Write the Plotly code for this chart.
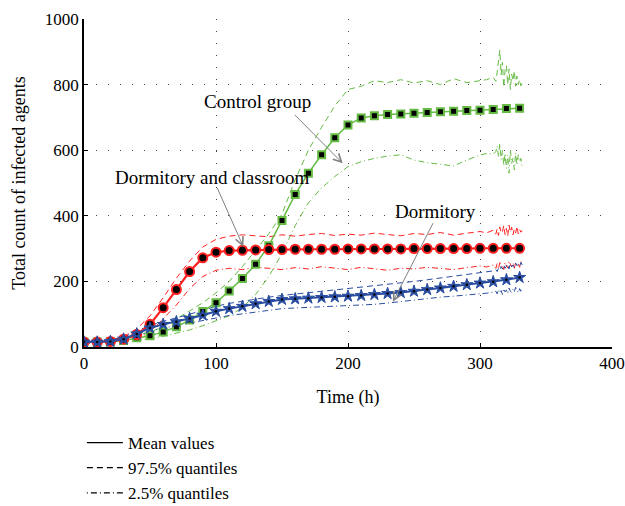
import plotly.graph_objects as go

# ---- data ----
T_MEAN = list(range(0, 331, 10))
RED_MEAN = [15, 15, 17, 24, 38, 69, 120, 175, 230, 272, 289, 294, 295, 296, 297, 297, 298, 298, 298, 298,
            299, 299, 299, 299, 299, 300, 300, 300, 300, 300, 301, 301, 301, 301]
GREEN_MEAN = [15, 15, 16, 20, 28, 34, 46, 62, 82, 108, 135, 171, 209, 252, 309, 386, 465, 530, 586, 638,
              677, 698, 705, 709, 710, 713, 715, 717, 719, 721, 722, 724, 727, 728]
BLUE_MEAN = [15, 15, 17, 24, 40, 58, 69, 77, 87, 97, 109, 117, 124, 132, 139, 145, 147, 149, 151, 153,
             155, 157, 160, 163, 166, 170, 175, 180, 185, 190, 195, 199, 205, 212]

Q_T = list(range(0, 301, 10)) + [305, 310] + list(range(312, 333))
RED_HI = [18, 18, 21, 32, 55, 95, 150, 210, 262, 305, 328, 338, 342, 340, 336, 342, 338, 343, 346, 340,
          344, 341, 347, 343, 339, 346, 343, 349, 341, 347, 352,
          348, 356,
          344, 360, 340, 366, 347, 352, 370, 343, 362, 338, 372, 350, 365, 342, 360, 348, 368, 345, 358, 350, 355]
RED_LO = [12, 12, 14, 18, 26, 45, 85, 128, 178, 215, 234, 240, 236, 243, 240, 236, 242, 238, 245, 240,
          236, 243, 238, 234, 240, 238, 243, 239, 236, 242, 247,
          244, 250,
          240, 254, 238, 257, 244, 250, 236, 258, 247, 241, 262, 250, 244, 256, 240, 258, 248, 254, 243, 260, 250]
GREEN_HI = [18, 18, 20, 25, 34, 45, 62, 85, 110, 135, 165, 200, 245, 295, 345, 405, 510, 600, 670, 735,
            785, 795, 812, 806, 815, 805, 812, 800, 818, 806, 812,
            815, 822,
            810, 838, 872, 905, 830, 868, 792, 845, 858, 800, 848, 785, 832, 812, 842, 795, 826, 800, 815, 796, 805]
GREEN_LO = [12, 12, 13, 15, 20, 25, 33, 42, 52, 65, 80, 95, 120, 160, 215, 285, 370, 440, 485, 520,
            550, 565, 575, 582, 586, 570, 562, 558, 552, 570, 585,
            590, 588,
            596, 612, 580, 620, 572, 600, 552, 590, 545, 585, 530, 602, 560, 576, 540, 592, 555, 586, 565, 575, 548]
BLUE_HI = [18, 18, 20, 30, 47, 66, 78, 88, 100, 112, 124, 133, 140, 147, 152, 157, 162, 166, 170, 174,
           178, 182, 186, 191, 195, 200, 205, 210, 216, 220, 225,
           228, 232,
           236, 230, 240, 234, 245, 238, 250, 240, 246, 252, 238, 255, 245, 250, 242, 256, 248, 252, 245, 258, 250]
BLUE_LO = [12, 12, 14, 20, 33, 50, 58, 65, 73, 82, 90, 96, 101, 107, 112, 117, 119, 121, 122, 123,
           125, 127, 130, 134, 139, 144, 148, 152, 155, 158, 162,
           164, 167,
           170, 162, 175, 165, 172, 160, 178, 168, 174, 163, 180, 170, 166, 176, 168, 182, 172, 165, 178, 170, 175]

X_TICKS = [0, 100, 200, 300, 400]
Y_TICKS = [0, 200, 400, 600, 800, 1000]
LEGEND_NAMES = ["Mean values", "97.5% quantiles", "2.5% quantiles"]

RED = "#ff2020"
GREEN = "#66bb44"
BLUE = "#2a4da0"
FONT = "Liberation Serif"

fig = go.Figure()

# quantile lines
for y, col, dash in [(GREEN_HI, GREEN, "6px,4px"), (GREEN_LO, GREEN, "6px,3px,1px,3px"),
                     (RED_HI, RED, "6px,4px"), (RED_LO, RED, "6px,3px,1px,3px"),
                     (BLUE_HI, BLUE, "6px,4px"), (BLUE_LO, BLUE, "6px,3px,1px,3px")]:
    fig.add_trace(go.Scatter(x=Q_T, y=y, mode="lines", showlegend=False, hoverinfo="skip",
                             line=dict(color=col, width=1, dash=dash)))

# mean lines with markers
fig.add_trace(go.Scatter(x=T_MEAN, y=GREEN_MEAN, mode="lines+markers", showlegend=False,
                         line=dict(color=GREEN, width=1.5),
                         marker=dict(symbol="square", size=7, color="black", line=dict(color=GREEN, width=2))))
fig.add_trace(go.Scatter(x=T_MEAN, y=RED_MEAN, mode="lines+markers", showlegend=False,
                         line=dict(color=RED, width=2.2),
                         marker=dict(symbol="circle", size=9, color="black", line=dict(color=RED, width=2))))
fig.add_trace(go.Scatter(x=T_MEAN, y=BLUE_MEAN, mode="lines+markers", showlegend=False,
                         line=dict(color=BLUE, width=2),
                         marker=dict(symbol="star", size=9, color=BLUE, line=dict(color=BLUE, width=1))))
fig.add_trace(go.Scatter(x=T_MEAN, y=BLUE_MEAN, mode="markers", showlegend=False, hoverinfo="skip",
                         marker=dict(symbol="circle", size=2.5, color="black")))

# legend entries
for name, dash in zip(LEGEND_NAMES, ["solid", "6px,4px", "1px,3px,6px,3px"]):
    fig.add_trace(go.Scatter(x=[None], y=[None], mode="lines", name=name,
                             line=dict(color="black", width=1.3, dash=dash)))

ann_font = dict(family=FONT, size=19, color="black")
annotations = [
    dict(x=131.8, y=750, xref="x", yref="y", text="Control group", showarrow=False, font=ann_font),
    dict(x=97, y=518, xref="x", yref="y", text="Dormitory and classroom", showarrow=False, font=ann_font),
    dict(x=266, y=412, xref="x", yref="y", text="Dormitory", showarrow=False, font=ann_font),
]
for (tx, ty, hx, hy) in [(158.6, 712, 196, 560), (100.5, 489, 120.7, 306), (265, 382, 234, 138)]:
    annotations.append(dict(x=hx, y=hy, ax=tx, ay=ty, xref="x", yref="y", axref="x", ayref="y",
                            text="", showarrow=True, arrowhead=5, arrowsize=1.6, arrowwidth=1,
                            arrowcolor="#808080"))

axis_common = dict(showline=True, linecolor="black", linewidth=1.5, ticks="inside", ticklen=4,
                   tickcolor="black", showgrid=True, gridcolor="#444444", gridwidth=1,
                   griddash="1px,11px", zeroline=False, automargin=False,
                   tickfont=dict(family=FONT, size=17, color="black"))

fig.update_layout(
    width=625, height=506,
    margin=dict(l=84, r=13, t=19, b=159, autoexpand=False),
    paper_bgcolor="white", plot_bgcolor="white",
    font=dict(family=FONT, size=17, color="black"),
    xaxis=dict(range=[0, 400], tickvals=X_TICKS,
               title=dict(text="Time (h)", font=dict(family=FONT, size=18), standoff=18), **axis_common),
    yaxis=dict(range=[0, 1000], tickvals=Y_TICKS,
               title=dict(text="Total count of infected agents", font=dict(family=FONT, size=18), standoff=15),
               **axis_common),
    legend=dict(x=-0.004, y=-0.238, xanchor="left", yanchor="top", bgcolor="rgba(0,0,0,0)",
                font=dict(family=FONT, size=17), tracegroupgap=0, itemwidth=36),
    annotations=annotations,
)

fig.write_html("out.html", config={"displayModeBar": False},
               post_script="document.body.style.margin='0';document.body.style.overflow='hidden';")
